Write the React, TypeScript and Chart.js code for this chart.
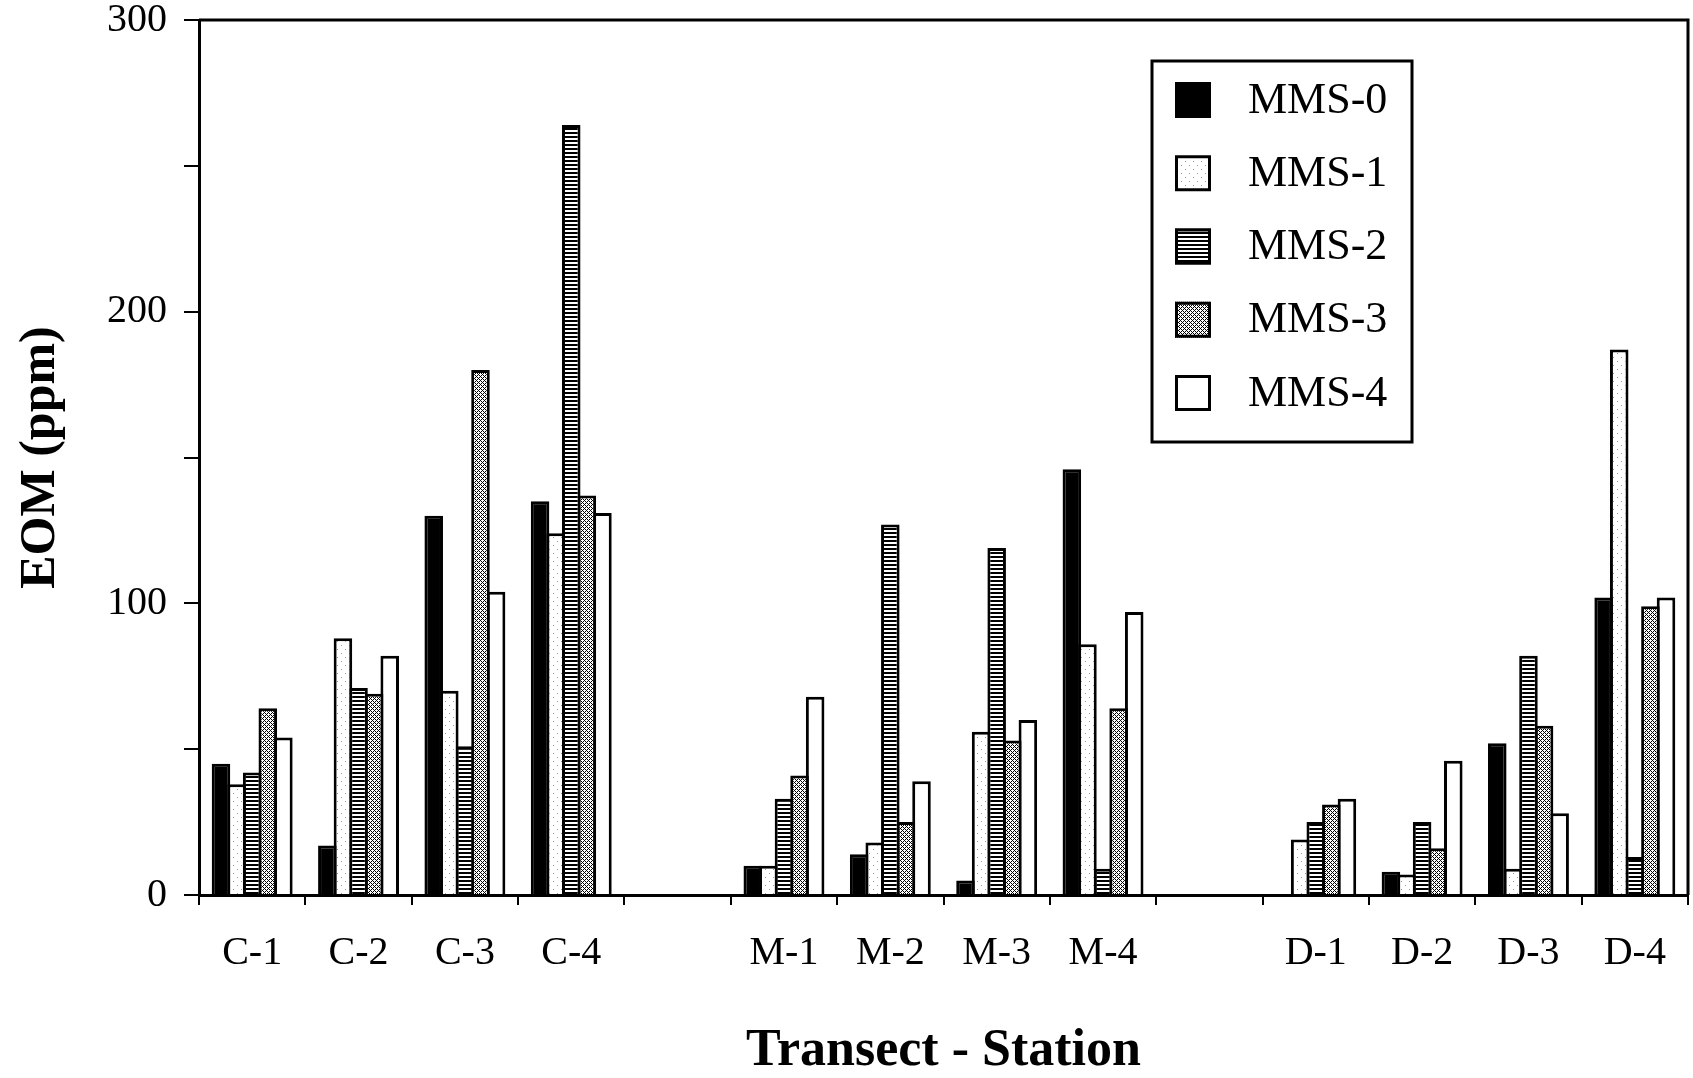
import React, { useEffect, useRef } from "react";
import { Chart, registerables } from "chart.js";

Chart.register(...registerables);

// ---- data ----
const categories = ["C-1", "C-2", "C-3", "C-4", "", "M-1", "M-2", "M-3", "M-4", "", "D-1", "D-2", "D-3", "D-4"];
const seriesNames = ["MMS-0", "MMS-1", "MMS-2", "MMS-3", "MMS-4"];
const mms0 = [45, 17, 130, 135, null, 10, 14, 5, 146, null, 0, 8, 52, 102];
const mms1 = [38, 88, 70, 124, null, 10, 18, 56, 86, null, 19, 7, 9, 187];
const mms2 = [42, 71, 51, 264, null, 33, 127, 119, 9, null, 25, 25, 82, 13];
const mms3 = [64, 69, 180, 137, null, 41, 25, 53, 64, null, 31, 16, 58, 99];
const mms4 = [54, 82, 104, 131, null, 68, 39, 60, 97, null, 33, 46, 28, 102];
const yMin = 0;
const yMax = 300;
const yStep = 50;
const yLabelEvery = 100;
const xTitle = "Transect - Station";
const yTitle = "EOM (ppm)";

const FAMILY = '"Liberation Serif", "Times New Roman", serif';

function makePattern(
  ctx: CanvasRenderingContext2D,
  w: number,
  h: number,
  draw: (g: CanvasRenderingContext2D) => void
): CanvasPattern | string {
  const c = document.createElement("canvas");
  c.width = w;
  c.height = h;
  const g = c.getContext("2d");
  if (!g) return "#fff";
  draw(g);
  return ctx.createPattern(c, "repeat") || "#fff";
}

const framePlugin = {
  id: "frame",
  afterDraw(chart: any) {
    const { ctx, chartArea } = chart;
    ctx.save();
    ctx.strokeStyle = "#000";
    ctx.lineWidth = 3;
    ctx.beginPath();
    ctx.moveTo(chartArea.left, chartArea.top);
    ctx.lineTo(chartArea.right, chartArea.top);
    ctx.lineTo(chartArea.right, chartArea.bottom);
    ctx.stroke();
    ctx.restore();
  },
};

const boxLegendPlugin = {
  id: "boxLegend",
  afterDraw(chart: any) {
    const ctx: CanvasRenderingContext2D = chart.ctx;
    const bx = 1152, by = 61, bw = 260, bh = 381;
    ctx.save();
    ctx.fillStyle = "#fff";
    ctx.fillRect(bx, by, bw, bh);
    ctx.strokeStyle = "#000";
    ctx.lineWidth = 3;
    ctx.strokeRect(bx, by, bw, bh);
    chart.data.datasets.forEach((ds: any, i: number) => {
      const cy = 100 + i * 73.25;
      ctx.fillStyle = ds.backgroundColor;
      ctx.fillRect(1175, cy - 18, 36, 36);
      ctx.lineWidth = 3;
      ctx.strokeStyle = "#000";
      ctx.strokeRect(1176.5, cy - 16.5, 33, 33);
      ctx.fillStyle = "#000";
      ctx.font = `44px ${FAMILY}`;
      ctx.textAlign = "left";
      ctx.textBaseline = "middle";
      ctx.fillText(ds.label, 1248, cy + 1);
    });
    ctx.restore();
  },
};

export default function App() {
  const ref = useRef<HTMLCanvasElement>(null);

  useEffect(() => {
    const canvas = ref.current;
    if (!canvas) return;
    const ctx = canvas.getContext("2d") as CanvasRenderingContext2D;

    const dots = makePattern(ctx, 8, 8, (g) => {
      g.fillStyle = "#fff";
      g.fillRect(0, 0, 8, 8);
      g.fillStyle = "#9a9a9a";
      g.fillRect(1, 1, 1, 1);
      g.fillRect(5, 5, 1, 1);
    });
    const hstripes = makePattern(ctx, 4, 4, (g) => {
      g.fillStyle = "#fff";
      g.fillRect(0, 0, 4, 4);
      g.fillStyle = "#000";
      g.fillRect(0, 0, 4, 2);
    });
    const hatch = makePattern(ctx, 4, 4, (g) => {
      g.fillStyle = "#fff";
      g.fillRect(0, 0, 4, 4);
      g.fillStyle = "#000";
      for (let x = 0; x < 4; x++) {
        for (let y = 0; y < 4; y++) {
          if ((x + y) % 4 === 0 || (x - y + 4) % 4 === 0) g.fillRect(x, y, 1, 1);
        }
      }
    });

    const fills = ["#000", dots, hstripes, hatch, "#fff"];
    const values = [mms0, mms1, mms2, mms3, mms4];

    const chart = new Chart(canvas, {
      type: "bar",
      data: {
        labels: categories,
        datasets: values.map((vals, i) => ({
          label: seriesNames[i],
          data: vals,
          backgroundColor: fills[i] as any,
          borderColor: "#000",
          borderWidth: 3,
          categoryPercentage: 0.733,
          barPercentage: 1.19,
        })),
      },
      options: {
        responsive: false,
        animation: false,
        devicePixelRatio: 1,
        events: [],
        layout: { padding: { top: 20, right: 5, left: 0, bottom: 0 } },
        plugins: {
          legend: { display: false },
          tooltip: { enabled: false },
        },
        scales: {
          x: {
            offset: true,
            grid: {
              display: true,
              offset: true,
              drawOnChartArea: false,
              drawTicks: true,
              tickLength: 10,
              color: "#000",
              lineWidth: 2,
            },
            border: { display: true, color: "#000", width: 3 },
            ticks: {
              color: "#000",
              font: { size: 40, family: FAMILY },
              padding: 24,
              maxRotation: 0,
              autoSkip: false,
            },
            title: {
              display: true,
              text: xTitle,
              color: "#000",
              font: { size: 52, weight: "bold", family: FAMILY, lineHeight: 1 },
              padding: { top: 0, bottom: 0 },
            },
            afterFit: (s: any) => {
              s.height = 183;
            },
          },
          y: {
            min: yMin,
            max: yMax,
            grid: {
              display: true,
              drawOnChartArea: false,
              drawTicks: true,
              tickLength: 15,
              color: "#000",
              lineWidth: 2,
            },
            border: { display: true, color: "#000", width: 3 },
            ticks: {
              stepSize: yStep,
              color: "#000",
              font: { size: 40, family: FAMILY },
              padding: 17,
              callback: (v: any) => (Number(v) % yLabelEvery === 0 ? String(v) : ""),
            },
            title: {
              display: true,
              text: yTitle,
              color: "#000",
              font: { size: 50, weight: "bold", family: FAMILY, lineHeight: 1 },
              padding: { top: 16, bottom: 0 },
            },
            afterFit: (s: any) => {
              s.width = 199;
              s.paddingTop = 0;
              s.paddingBottom = 0;
            },
          },
        },
      } as any,
      plugins: [framePlugin, boxLegendPlugin],
    });

    return () => chart.destroy();
  }, []);

  return (
    <div style={{ position: "fixed", left: 0, top: 0, width: 1693, height: 1078, background: "#fff" }}>
      <canvas ref={ref} width={1693} height={1078} style={{ display: "block", width: 1693, height: 1078 }} />
    </div>
  );
}
